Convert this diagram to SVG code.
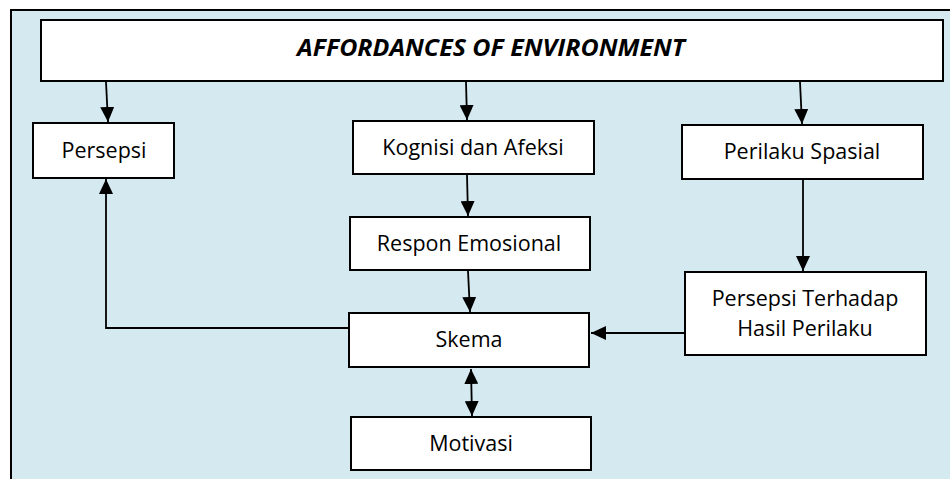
<svg xmlns="http://www.w3.org/2000/svg" width="950" height="479" viewBox="0 0 950 479">
<defs>
<style>
.box{fill:#ffffff;stroke:#000000;stroke-width:2}
.lbl{font-family:"Open Sans","Liberation Sans",sans-serif;font-size:21.5px;fill:#000000;text-anchor:middle}
.title{font-family:"Open Sans","Liberation Sans",sans-serif;font-size:23.5px;font-weight:bold;font-style:italic;fill:#000000;text-anchor:middle}
.con{fill:none;stroke:#000000;stroke-width:1.8}
</style>
<marker id="ah" viewBox="0 0 15 14" refX="15" refY="7" markerWidth="15" markerHeight="14" markerUnits="userSpaceOnUse" orient="auto">
<path d="M0,0 L15,7 L0,14 Z" fill="#000000"/>
</marker>
<marker id="as" viewBox="0 0 15 14" refX="0" refY="7" markerWidth="15" markerHeight="14" markerUnits="userSpaceOnUse" orient="auto">
<path d="M15,0 L0,7 L15,14 Z" fill="#000000"/>
</marker>
</defs>
<rect x="11" y="10" width="970" height="500" fill="#d4e9f0" stroke="#000000" stroke-width="2"/>
<g id="connectors">
<line class="con" x1="106" y1="82" x2="108" y2="122" marker-end="url(#ah)"/>
<line class="con" x1="466" y1="82" x2="467" y2="120" marker-end="url(#ah)"/>
<line class="con" x1="800" y1="82" x2="802" y2="124" marker-end="url(#ah)"/>
<line class="con" x1="467" y1="175" x2="468" y2="216" marker-end="url(#ah)"/>
<line class="con" x1="468" y1="271" x2="470" y2="312" marker-end="url(#ah)"/>
<line class="con" x1="471" y1="369" x2="472" y2="416" marker-start="url(#as)" marker-end="url(#ah)"/>
<line class="con" x1="684" y1="333" x2="591" y2="333" marker-end="url(#ah)"/>
<line class="con" x1="803" y1="180" x2="803" y2="271" marker-end="url(#ah)"/>
<polyline class="con" points="348,328 106,328 106,179" marker-end="url(#ah)"/>
</g>
<g id="title">
<rect class="box" x="41" y="20" width="902" height="61"/>
<text class="title" x="491" y="56" textLength="388" lengthAdjust="spacingAndGlyphs">AFFORDANCES OF ENVIRONMENT</text>
</g>
<g id="persepsi">
<rect class="box" x="33" y="123" width="141" height="55"/>
<text class="lbl" x="104" y="158">Persepsi</text>
</g>
<g id="kognisi">
<rect class="box" x="353" y="121" width="241" height="53"/>
<text class="lbl" x="473" y="155">Kognisi dan Afeksi</text>
</g>
<g id="perilaku">
<rect class="box" x="682" y="125" width="241" height="54"/>
<text class="lbl" x="802" y="159">Perilaku Spasial</text>
</g>
<g id="respon">
<rect class="box" x="350" y="217" width="240" height="53"/>
<text class="lbl" x="469" y="251">Respon Emosional</text>
</g>
<g id="skema">
<rect class="box" x="349" y="313" width="240" height="54"/>
<text class="lbl" x="469" y="347">Skema</text>
</g>
<g id="motivasi">
<rect class="box" x="351" y="417" width="240" height="53"/>
<text class="lbl" x="471" y="451">Motivasi</text>
</g>
<g id="persepsi-terhadap">
<rect class="box" x="685" y="272" width="241" height="83"/>
<text class="lbl" x="805" y="306">Persepsi Terhadap</text>
<text class="lbl" x="805" y="336">Hasil Perilaku</text>
</g>
</svg>
